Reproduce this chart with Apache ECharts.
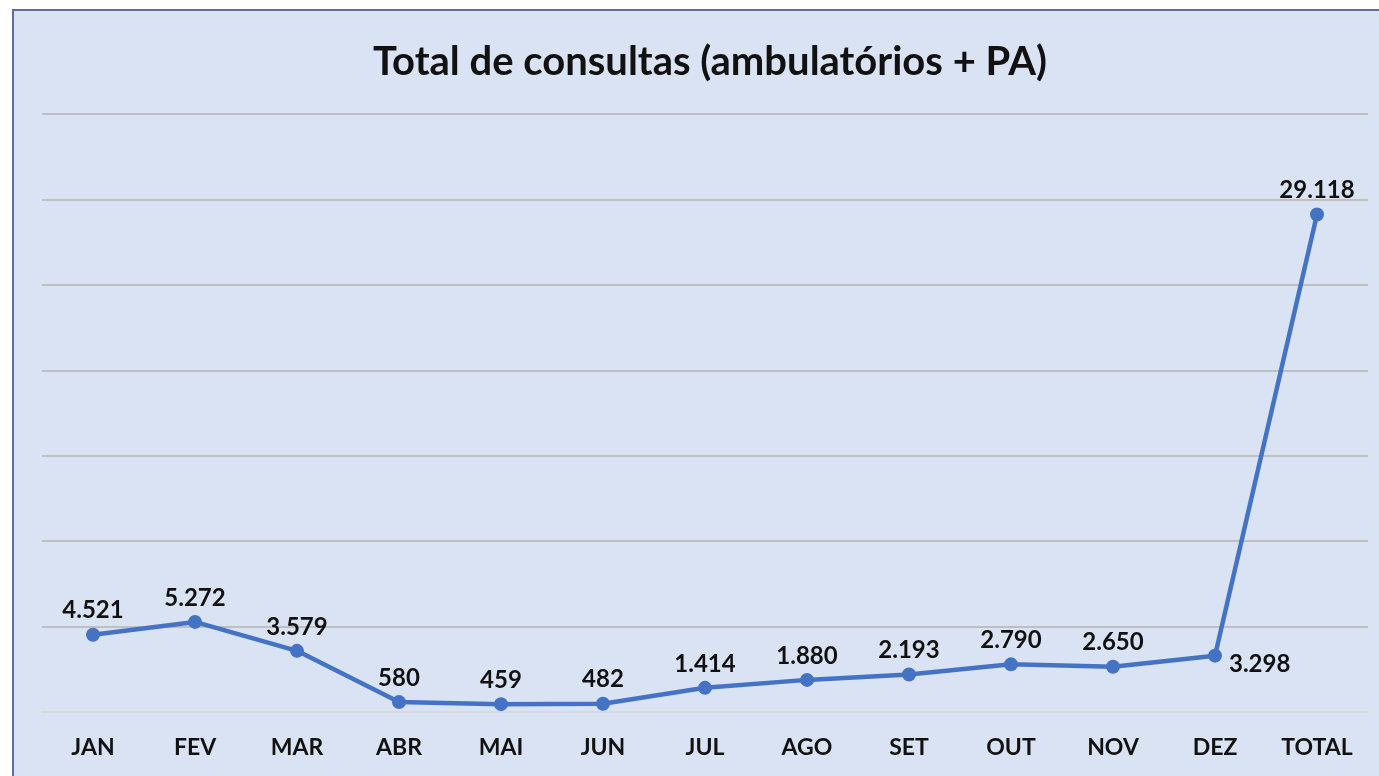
<!DOCTYPE html>
<html>
<head>
<meta charset="utf-8">
<script src="https://cdn.jsdelivr.net/npm/echarts@6/dist/echarts.min.js"></script>
<style>
  html, body { margin: 0; padding: 0; background: #ffffff; }
  #chart { width: 1379px; height: 776px; }
</style>
</head>
<body>
<div id="chart"></div>
<script>
var chartTitle = 'Total de consultas (ambulatórios + PA)';
var months = ['JAN', 'FEV', 'MAR', 'ABR', 'MAI', 'JUN', 'JUL', 'AGO', 'SET', 'OUT', 'NOV', 'DEZ', 'TOTAL'];
var consultas = [4521, 5272, 3579, 580, 459, 482, 1414, 1880, 2193, 2790, 2650, 3298, 29118];
var yMax = 35000;
var yStep = 5000;

// 4521 -> 4.521
function fmt(v) {
	return String(v).replace(/\B(?=(\d{3})+(?!\d))/g, '.');
}

var seriesData = consultas.map(function (v, i) {
	var item = { value: v };
	if (months[i] === 'DEZ') {
		item.label = { position: 'right', offset: [2, 9] };
	}
	return item;
});

var chart = echarts.init(document.getElementById('chart'));
var option = {
	backgroundColor: '#ffffff',
	textStyle: { fontFamily: 'Lato' },
	graphic: [{
		type: 'rect',
		z: -10,
		shape: { x: 13, y: 10, width: 1420, height: 820 },
		style: { fill: '#dae3f3', stroke: '#5d6f98', lineWidth: 2 }
	}],
	title: {
		text: chartTitle,
		left: 705,
		textAlign: 'center',
		top: 37,
		textStyle: { fontFamily: 'Lato', fontWeight: 'bold', fontSize: 40, color: '#111111' }
	},
	grid: { left: 42, right: 11, top: 114, bottom: 64 },
	xAxis: {
		type: 'category',
		data: months,
		boundaryGap: true,
		axisLine: { show: true, lineStyle: { color: '#d9d9d9', width: 2 } },
		axisTick: { show: false },
		axisLabel: { margin: 24, fontFamily: 'Lato', fontWeight: 'bold', fontSize: 23, color: '#111111' }
	},
	yAxis: {
		type: 'value',
		min: 0,
		max: yMax,
		interval: yStep,
		axisLabel: { show: false },
		axisLine: { show: false },
		axisTick: { show: false },
		splitLine: { lineStyle: { color: ['#d9d9d9', '#bfbfbf', '#bfbfbf', '#bfbfbf', '#bfbfbf', '#bfbfbf', '#bfbfbf', '#bfbfbf'], width: 2 } }
	},
	series: [{
		type: 'line',
		data: seriesData,
		symbol: 'circle',
		symbolSize: 14,
		lineStyle: { color: '#4472c4', width: 4.5 },
		itemStyle: { color: '#4472c4' },
		label: {
			show: true,
			position: 'top',
			distance: 5,
			fontFamily: 'Lato',
			fontWeight: 'bold',
			fontSize: 24,
			color: '#111111',
			formatter: function (p) { return fmt(p.value); }
		}
	}]
};
chart.setOption(option);
</script>
</body>
</html>
